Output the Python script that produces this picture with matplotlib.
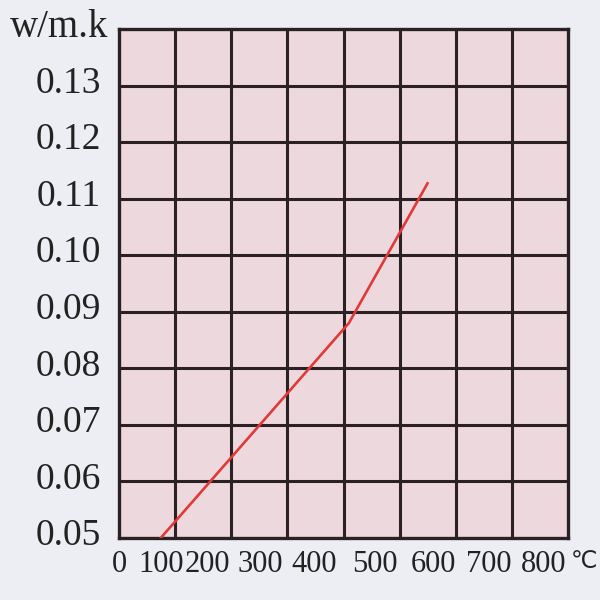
import numpy as np
import matplotlib
matplotlib.use('Agg')
import matplotlib.pyplot as plt
import matplotlib.transforms as mtransforms

# thermal conductivity vs temperature
temp = [100, 457, 590]
cond = [0.050, 0.088, 0.1127]

x_labels = [0, 100, 200, 300, 400, 500, 600, 700, 800]
y_ticks = [0.05, 0.06, 0.07, 0.08, 0.09, 0.10, 0.11, 0.12, 0.13]

# printed scale is uneven: where each temperature label sits, in grid cells
lbl_cells = [-0.07, 0.68, 1.52, 2.46, 3.44, 4.53, 5.58, 6.58, 7.56]
t_ext = [-100] + x_labels + [900]
c_ext = [-0.82] + lbl_cells + [8.56]

def fwd(t):
    return np.interp(t, t_ext, c_ext)

def inv(c):
    return np.interp(c, c_ext, t_ext)

bg = '#eceef3'
cell = '#edd8de'
gridc = '#2b2124'
serif = ['Liberation Serif', 'DejaVu Sans']

fig = plt.figure(figsize=(6, 6), dpi=100, facecolor=bg)
ax = fig.add_axes([119/600, 1-538/600, (568-119)/600, (538-29)/600])
ax.set_facecolor(cell)
ax.set_xscale('function', functions=(fwd, inv))
ax.set_xlim(inv(0), inv(8))
ax.set_ylim(0.05, 0.14)

# grid, 8 x 9 cells
for k in range(1, 8):
    ax.plot([k/8, k/8], [0, 1], transform=ax.transAxes, color=gridc, lw=2.2, zorder=1)
for k in range(1, 9):
    ax.plot([0, 1], [k/9, k/9], transform=ax.transAxes, color=gridc, lw=2.2, zorder=1)
for s in ax.spines.values():
    s.set_color(gridc)
    s.set_linewidth(2.4)

ax.plot(temp, cond, color='#e03a36', lw=1.9, zorder=3)

ax.set_xticks(x_labels)
ax.set_xticklabels([str(v) for v in x_labels], family=serif, fontsize=22, color='#222222')
ax.set_yticks(y_ticks)
ax.set_yticklabels(['%.2f' % v for v in y_ticks], family=serif, fontsize=27, color='#222222')
ax.tick_params(axis='x', length=0, pad=9)
ax.tick_params(axis='y', length=0, pad=13)
off = mtransforms.ScaledTranslation(0, 6/100, fig.dpi_scale_trans)
for lab in ax.get_yticklabels():
    lab.set_transform(lab.get_transform() + off)

fig.text(571/600, 1-563/600, '℃', family=serif, fontsize=17, color='#222222', ha='left', va='center')
fig.text(10/600, 1-37/600, 'w/m.k', family=serif, fontsize=28, color='#222222', ha='left', va='baseline')

fig.savefig('out.png', dpi=100, facecolor=bg)
